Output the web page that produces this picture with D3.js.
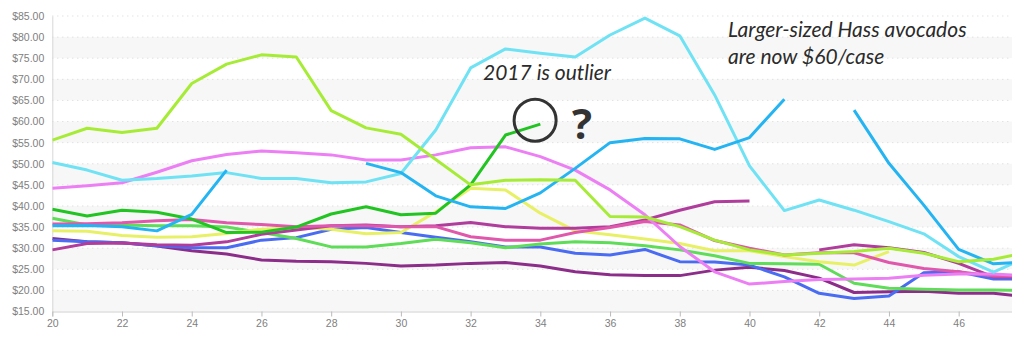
<!DOCTYPE html>
<html>
<head>
<meta charset="utf-8">
<script src="https://cdn.jsdelivr.net/npm/d3@7"></script>
<style>
  body { margin: 0; background: #fff; }
  svg { display: block; }
  .axis text { font-family: "Liberation Sans", Arial, sans-serif; font-size: 10.5px; fill: #808080; }
  .note { font-family: Lato, sans-serif; font-style: italic; font-weight: 400; fill: #2b2b2b; }
</style>
</head>
<body>
<div id="chart"></div>
<script>
// weeks on the x axis (data runs one past the visible edge, clipped)
const weeks = d3.range(20, 49);
const yTicks = d3.range(15, 86, 5);
const xTicks = d3.range(20, 47, 2);

// one array per season, null = no price reported that week
const limeSeries   = [55.6,58.4,57.4,58.4,69.0,73.6,75.8,75.3,62.6,58.5,57.0,51.0,45.0,46.1,46.2,46.1,37.5,37.4,35.1,31.9,29.6,28.4,28.8,29.2,30.0,28.8,26.8,27.4,29.0];
const cyanSeries   = [50.3,48.5,46.1,46.5,47.1,47.9,46.5,46.5,45.5,45.7,47.7,58.0,72.7,77.2,76.2,75.3,80.5,84.5,80.3,66.3,49.5,38.9,41.4,39.0,36.3,33.4,28.0,24.3,28.0];
const skySeries    = [35.3,35.4,35.1,34.1,38.0,48.5,null,null,null,50.1,47.9,42.4,39.8,39.4,43.1,48.9,55.0,56.0,55.9,53.4,56.2,65.3,null,62.7,50.1,40.2,29.7,26.3,26.8];
const violetSeries = [44.2,44.8,45.5,48.0,50.7,52.2,53.0,52.6,52.1,50.9,50.9,52.1,53.8,54.0,51.7,48.5,43.8,37.9,30.4,24.4,21.5,22.1,22.6,22.7,22.9,23.6,23.9,23.9,23.4];
const greenSeries  = [39.2,37.6,39.0,38.5,36.9,33.7,33.8,35.0,38.1,39.8,37.9,38.3,45.0,56.8,59.4,null,null,null,null,null,null,null,null,null,null,null,null,null,null];
const mintSeries   = [37.1,35.5,35.5,35.3,35.3,35.0,33.7,32.3,30.3,30.3,31.1,32.1,31.3,30.1,31.0,31.5,31.3,30.6,29.6,28.2,26.4,26.3,26.2,21.7,20.5,20.3,20.1,20.1,20.0];
const pinkSeries   = [35.7,35.8,36.0,36.5,36.8,36.0,35.6,35.1,35.3,35.3,35.1,35.1,32.7,31.9,31.9,33.7,34.9,36.3,35.5,31.8,30.0,28.4,28.9,28.9,26.6,25.2,24.4,23.4,23.4];
const plumSeries   = [29.6,31.1,31.2,30.8,30.7,31.5,33.3,34.3,35.3,35.5,35.1,35.3,36.1,35.1,34.7,34.7,35.1,36.7,39.0,41.0,41.2,null,29.6,30.8,30.1,29.0,26.4,23.2,23.2];
const purpleSeries = [32.3,31.5,31.3,30.5,29.4,28.6,27.2,26.9,26.8,26.4,25.8,26.0,26.4,26.6,25.8,24.4,23.7,23.5,23.5,24.8,25.5,24.7,22.9,19.5,19.7,19.8,19.3,19.3,18.5];
const blueSeries   = [31.9,31.5,31.3,30.6,30.1,30.1,31.9,32.5,34.5,34.9,33.7,32.6,31.5,30.3,30.3,28.8,28.4,29.7,26.8,26.7,26.0,23.2,19.3,18.1,18.7,24.2,24.4,22.7,22.7];
const yellowSeries = [34.1,34.0,33.0,32.6,32.7,33.5,34.5,34.9,34.5,33.4,33.7,38.6,44.2,43.8,38.3,34.1,33.2,32.2,31.1,29.4,29.4,28.0,26.8,26.0,29.2,null,null,null,null];

const seriesList = [
  { name: "purple", values: purpleSeries, color: "#8c2d8a" },
  { name: "blue",   values: blueSeries,   color: "#4a6cf2" },
  { name: "mint",   values: mintSeries,   color: "#5fdc58" },
  { name: "yellow", values: yellowSeries, color: "#e8f066" },
  { name: "plum",   values: plumSeries,   color: "#b03c9c" },
  { name: "pink",   values: pinkSeries,   color: "#e058ac" },
  { name: "violet", values: violetSeries, color: "#ec7ff4" },
  { name: "green",  values: greenSeries,  color: "#22c422" },
  { name: "cyan",   values: cyanSeries,   color: "#6fe2f4" },
  { name: "sky",    values: skySeries,    color: "#24b4f2" },
  { name: "lime",   values: limeSeries,   color: "#a6ec36" }
];

const width = 1012, height = 337;
const margin = { top: 16, right: 0, bottom: 25.5, left: 52.3 };

const svg = d3.select("#chart").append("svg")
  .attr("width", width)
  .attr("height", height);

const x = d3.scaleLinear()
  .domain([20, 47.53])
  .range([margin.left, width - margin.right]);
const y = d3.scaleLinear()
  .domain([15, 85])
  .range([height - margin.bottom, margin.top]);

// alternating grey bands
svg.append("g").selectAll("rect")
  .data(yTicks.filter(v => v % 10 === 5 && v < 85))
  .join("rect")
  .attr("x", margin.left)
  .attr("width", width - margin.left)
  .attr("y", d => y(d + 5))
  .attr("height", d => y(d) - y(d + 5))
  .attr("fill", "#f7f7f7");

// dotted gridlines
svg.append("g").selectAll("line")
  .data(yTicks.slice(1))
  .join("line")
  .attr("x1", margin.left).attr("x2", width)
  .attr("y1", d => y(d)).attr("y2", d => y(d))
  .attr("stroke", "#d6d6d6")
  .attr("stroke-dasharray", "1,4");

// axes
const yAxis = svg.append("g")
  .attr("class", "axis")
  .attr("transform", `translate(${margin.left},0)`)
  .call(d3.axisLeft(y).tickValues(yTicks).tickSize(0).tickPadding(8)
    .tickFormat(d => "$" + d.toFixed(2)));
yAxis.select(".domain").attr("stroke", "#d8d8d8");

const xAxis = svg.append("g")
  .attr("class", "axis")
  .attr("transform", `translate(0,${y(15)})`)
  .call(d3.axisBottom(x).tickValues(xTicks).tickSize(5).tickPadding(3)
    .tickFormat(d3.format("d")));
xAxis.select(".domain").attr("stroke", "#d0d0d0");
xAxis.selectAll(".tick line").attr("stroke", "#bbb");
xAxis.selectAll(".tick text").attr("fill", "#8a8a8a");

// clip lines to plot area
svg.append("clipPath").attr("id", "plot-clip")
  .append("rect")
  .attr("x", margin.left).attr("y", 0)
  .attr("width", width - margin.left).attr("height", y(15));

const line = d3.line()
  .defined(d => d.v != null)
  .x(d => x(d.w))
  .y(d => y(d.v));

svg.append("g")
  .attr("clip-path", "url(#plot-clip)")
  .selectAll("path")
  .data(seriesList)
  .join("path")
  .attr("fill", "none")
  .attr("stroke", d => d.color)
  .attr("stroke-width", 3)
  .attr("stroke-linejoin", "round")
  .attr("d", d => line(d.values.map((v, i) => ({ w: weeks[i], v: v }))));

// annotations
svg.append("text").attr("class", "note")
  .attr("x", 483).attr("y", 80)
  .attr("font-size", 21)
  .text("2017 is outlier");

svg.append("circle")
  .attr("cx", x(33.85)).attr("cy", y(60.3))
  .attr("r", 21)
  .attr("fill", "none")
  .attr("stroke", "#333")
  .attr("stroke-width", 3);

svg.append("text")
  .attr("x", 572).attr("y", 139)
  .attr("font-family", "\"Open Sans\", sans-serif")
  .attr("font-weight", 700)
  .attr("font-size", 42)
  .attr("fill", "#333")
  .text("?");

svg.append("text").attr("class", "note")
  .attr("x", 728).attr("y", 37)
  .attr("font-size", 21)
  .text("Larger-sized Hass avocados");
svg.append("text").attr("class", "note")
  .attr("x", 728).attr("y", 64)
  .attr("font-size", 21)
  .text("are now $60/case");
</script>
</body>
</html>
